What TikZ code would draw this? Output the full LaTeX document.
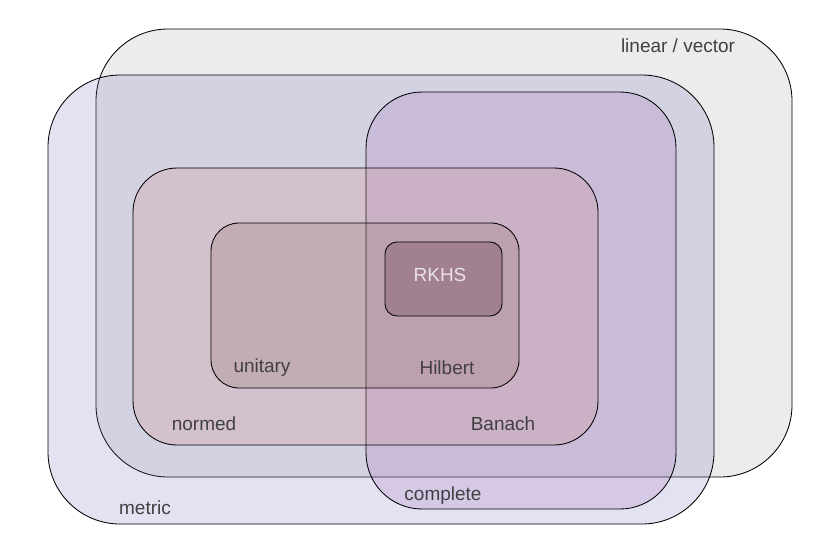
\documentclass[tikz,border=0pt]{standalone}
\usepackage{fontspec}
\setmainfont{Liberation Sans}
\usepackage{tikz}

\definecolor{linearFill}{RGB}{236,236,236}
\definecolor{metricFill}{RGB}{110,110,190}
\definecolor{completeFill}{RGB}{163,103,184}
\definecolor{normedFill}{RGB}{218,133,125}
\definecolor{unitaryFill}{RGB}{130,92,80}
\definecolor{rkhsFill}{RGB}{100,60,80}
\definecolor{labelText}{RGB}{64,64,64}

\begin{document}
\begin{tikzpicture}[x=0.025cm, y=-0.025cm]
	\tikzstyle{region} = [draw=black, line width=0.6pt]
	\tikzstyle{setLabel} = [text=labelText, font=\fontsize{13.5}{16}\selectfont, inner sep=0pt]
	\useasboundingbox (0,0) rectangle (821,553);
	% sets, back to front
	\draw [region, fill=linearFill, rounded corners=1.8cm] (96,29) rectangle (792,477);
	\draw [region, fill=metricFill, fill opacity=0.2, rounded corners=1.8cm] (48,75) rectangle (714,524);
	\draw [region, fill=completeFill, fill opacity=0.2, rounded corners=1.4cm] (366,92) rectangle (676,509);
	\draw [region, fill=normedFill, fill opacity=0.2, rounded corners=1.1cm] (133,168) rectangle (598,445);
	\draw [region, fill=unitaryFill, fill opacity=0.2, rounded corners=0.7cm] (211,223) rectangle (519,388);
	\draw [region, fill=rkhsFill, fill opacity=0.3, rounded corners=0.3cm] (385,242) rectangle (502,316);
	% labels
	\node (linearLabel) [setLabel] at (678,46) {linear / vector};
	\node (metricLabel) [setLabel] at (145,508) {metric};
	\node (completeLabel) [setLabel] at (443,496) {complete};
	\node (normedLabel) [setLabel] at (204,424) {normed};
	\node (banachLabel) [setLabel] at (503,424) {Banach};
	\node (unitaryLabel) [setLabel] at (262,368) {unitary};
	\node (hilbertLabel) [setLabel] at (447,368) {Hilbert};
	\node (rkhsLabel) [setLabel, text={rgb,255:red,235;green,225;blue,235}] at (440,275) {RKHS};
\end{tikzpicture}
\end{document}
